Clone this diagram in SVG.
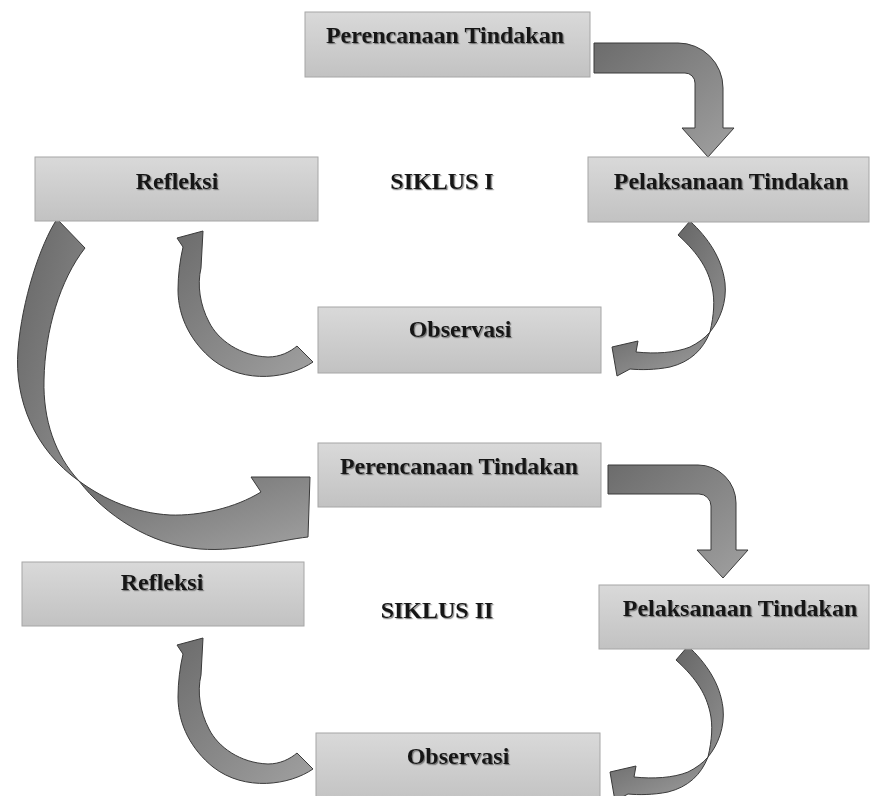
<svg xmlns="http://www.w3.org/2000/svg" width="870" height="796" viewBox="0 0 870 796">
<defs>
<linearGradient id="boxg" x1="0" y1="0" x2="0" y2="1"><stop offset="0" stop-color="#d9d9d9"/><stop offset="1" stop-color="#c2c2c2"/></linearGradient>
<linearGradient id="arrg" x1="0" y1="0" x2="1" y2="1"><stop offset="0" stop-color="#6c6c6c"/><stop offset="1" stop-color="#a0a0a0"/></linearGradient>
<linearGradient id="arrb" x1="0" y1="0" x2="1" y2="1"><stop offset="0" stop-color="#666"/><stop offset="1" stop-color="#8e8e8e"/></linearGradient>
<filter id="ts" x="-5%" y="-20%" width="110%" height="150%"><feDropShadow dx="1.2" dy="1.2" stdDeviation="0.7" flood-color="#666" flood-opacity="0.8"/></filter>
</defs>
<style>
.box{fill:url(#boxg);stroke:#a6a6a6;stroke-width:1}
.lbl{font-family:"Liberation Serif","Times New Roman",serif;font-weight:bold;font-size:24px;fill:#141414;text-anchor:middle;filter:url(#ts)}
.arr{fill:url(#arrg);stroke:#3a3a3a;stroke-width:1;stroke-linejoin:round}
.back{fill:url(#arrb);stroke:#3a3a3a;stroke-width:1;stroke-linejoin:round}
</style>
<rect width="870" height="796" fill="#fff"/>
<g id="connectors">
<path class="arr" d="M594,43 H678 A45,45 0 0 1 723,88 V128 H734 L708,157 L682,128 H695 V83 A10,10 0 0 0 685,73 H594 Z"/>
<path class="back" d="M690,221 C708,238 722,258 725,283 C727,302 720,320 710,332 C714,315 715,300 712,287 C708,270 700,255 678,235 Z"/>
<path class="arr" d="M710,332 C703,350 690,362 670,367 C655,370 640,370 630,369 L617,376 L612,347 L638,341 L636,352 C655,354 675,353 690,347 C698,343 705,338 710,332 Z"/>
<path class="arr" d="M313,362 C290,378 245,385 213,360 C192,343 178,318 178,290 C178,275 180,260 183,247 L177,238 L203,231 L201,268 C197,285 200,305 209,322 C218,340 240,356 268,357 C280,357 290,352 297,346 Z"/>
<path class="back" d="M57,219 C40,245 22,300 18,350 C14,400 35,450 79,481 C55,455 43,420 44,380 C45,330 60,280 85,248 Z"/>
<path class="arr" d="M79,481 C105,515 150,545 200,549 C240,552 280,540 308,537 L310,477 L251,477 L261,492 C235,508 200,516 170,515 C135,513 105,500 79,481 Z"/>
<path class="arr" d="M608,465 H698 A38,38 0 0 1 736,503 V550 H748 L723,578 L697,550 H711 V506 A12,12 0 0 0 699,494 H608 Z"/>
<path class="back" transform="translate(-2,425)" d="M690,221 C708,238 722,258 725,283 C727,302 720,320 710,332 C714,315 715,300 712,287 C708,270 700,255 678,235 Z"/>
<path class="arr" transform="translate(-2,425)" d="M710,332 C703,350 690,362 670,367 C655,370 640,370 630,369 L617,376 L612,347 L638,341 L636,352 C655,354 675,353 690,347 C698,343 705,338 710,332 Z"/>
<path class="arr" transform="translate(0,407)" d="M313,362 C290,378 245,385 213,360 C192,343 178,318 178,290 C178,275 180,260 183,247 L177,238 L203,231 L201,268 C197,285 200,305 209,322 C218,340 240,356 268,357 C280,357 290,352 297,346 Z"/>
</g>
<g id="p1"><rect class="box" x="305" y="12" width="285" height="65"/><text class="lbl" x="445" y="43">Perencanaan Tindakan</text></g>
<g id="r1"><rect class="box" x="35" y="157" width="283" height="64"/><text class="lbl" x="177" y="189">Refleksi</text></g>
<g id="s1"><text class="lbl" x="442" y="189">SIKLUS I</text></g>
<g id="l1"><rect class="box" x="588" y="157" width="281" height="65"/><text class="lbl" x="731" y="189">Pelaksanaan Tindakan</text></g>
<g id="o1"><rect class="box" x="318" y="307" width="283" height="66"/><text class="lbl" x="460" y="337">Observasi</text></g>
<g id="p2"><rect class="box" x="318" y="443" width="283" height="64"/><text class="lbl" x="459" y="474">Perencanaan Tindakan</text></g>
<g id="r2"><rect class="box" x="22" y="562" width="282" height="64"/><text class="lbl" x="162" y="590">Refleksi</text></g>
<g id="s2"><text class="lbl" x="437" y="618">SIKLUS II</text></g>
<g id="l2"><rect class="box" x="599" y="585" width="270" height="64"/><text class="lbl" x="740" y="616">Pelaksanaan Tindakan</text></g>
<g id="o2"><rect class="box" x="316" y="733" width="284" height="70"/><text class="lbl" x="458" y="764">Observasi</text></g>
</svg>
